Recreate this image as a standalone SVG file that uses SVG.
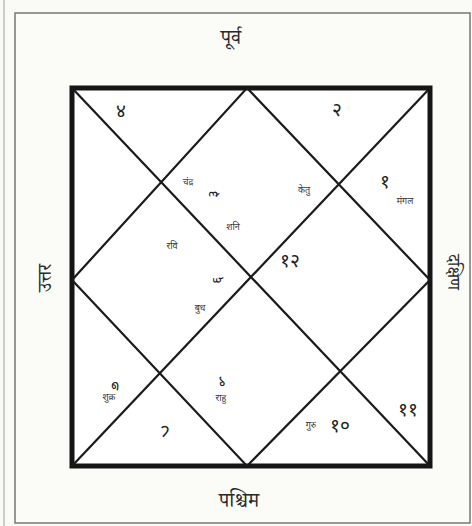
<svg xmlns="http://www.w3.org/2000/svg" width="472" height="526" viewBox="0 0 472 526">
<style>
.dir{font-family:"Noto Serif Devanagari","Noto Sans Devanagari","Lohit Devanagari","Noto Sans",serif;font-size:20px;fill:#2a2a2a;text-anchor:middle}
.num{font-family:"Noto Sans Devanagari","Noto Serif Devanagari","Lohit Devanagari","Noto Sans",sans-serif;font-size:19px;fill:#222;text-anchor:middle;dominant-baseline:central}
.pl{font-family:"Noto Sans Devanagari","Noto Serif Devanagari","Lohit Devanagari","Noto Sans",sans-serif;font-size:9px;fill:#333;text-anchor:middle;dominant-baseline:central}
.ln{stroke:#1a1a1a;stroke-width:2.2;fill:none}
</style>
<rect x="0" y="0" width="472" height="526" fill="#fafaf7"/>
<line x1="4" y1="0" x2="4" y2="526" stroke="#bbb" stroke-width="1.5"/>
<rect x="15" y="13" width="455" height="510" fill="#fbfbf8" stroke="#777" stroke-width="1.5"/>
<g id="chart">
<rect x="72" y="88" width="358" height="378" fill="#fff" stroke="#151515" stroke-width="5"/>
</g>
<g id="connectors">
<line class="ln" x1="72" y1="88" x2="430" y2="466"/>
<line class="ln" x1="430" y1="88" x2="72" y2="466"/>
<polygon class="ln" points="247,88 430,280 247,466 72,280"/>
</g>
<g id="directions">
<text class="dir" x="231" y="44">पूर्व</text>
<text class="dir" x="239" y="507">पश्चिम</text>
<text class="dir" transform="translate(51,278) rotate(-90)" style="font-size:19px">उत्तर</text>
<text class="dir" transform="translate(448,272) rotate(90)" style="font-size:17px">दक्षिण</text>
</g>
<g id="house-top-left"><text class="num" x="121" y="112">४</text></g>
<g id="house-top-right"><text class="num" x="337" y="111">२</text></g>
<g id="house-top">
<text class="pl" x="188" y="183">चंद्र</text>
<text class="num" transform="translate(214,194) rotate(-90)" style="font-size:14px">३</text>
<text class="pl" x="233" y="228">शनि</text>
<text class="pl" x="304" y="191">केतु</text>
</g>
<g id="house-right-top">
<text class="num" x="385" y="183">१</text>
<text class="pl" x="405" y="202">मंगल</text>
</g>
<g id="house-left">
<text class="pl" x="172" y="247">रवि</text>
<text class="num" transform="translate(218,280) rotate(-90)" style="font-size:14px">६</text>
<text class="pl" x="200" y="309">बुध</text>
</g>
<g id="house-right"><text class="num" x="290" y="262">१२</text></g>
<g id="house-left-bottom">
<text class="num" transform="translate(115,385) rotate(180)" style="font-size:15px">७</text>
<text class="pl" x="109" y="398">शुक्र</text>
</g>
<g id="house-bottom">
<text class="num" transform="translate(222,380) rotate(180)" style="font-size:15px">९</text>
<text class="pl" x="221" y="399">राहु</text>
</g>
<g id="house-bottom-left"><text class="num" transform="translate(165,429) rotate(180)">८</text></g>
<g id="house-bottom-right">
<text class="pl" x="311" y="426">गुरु</text>
<text class="num" x="340" y="427">१०</text>
</g>
<g id="house-right-bottom"><text class="num" x="408" y="411">११</text></g>
</svg>
